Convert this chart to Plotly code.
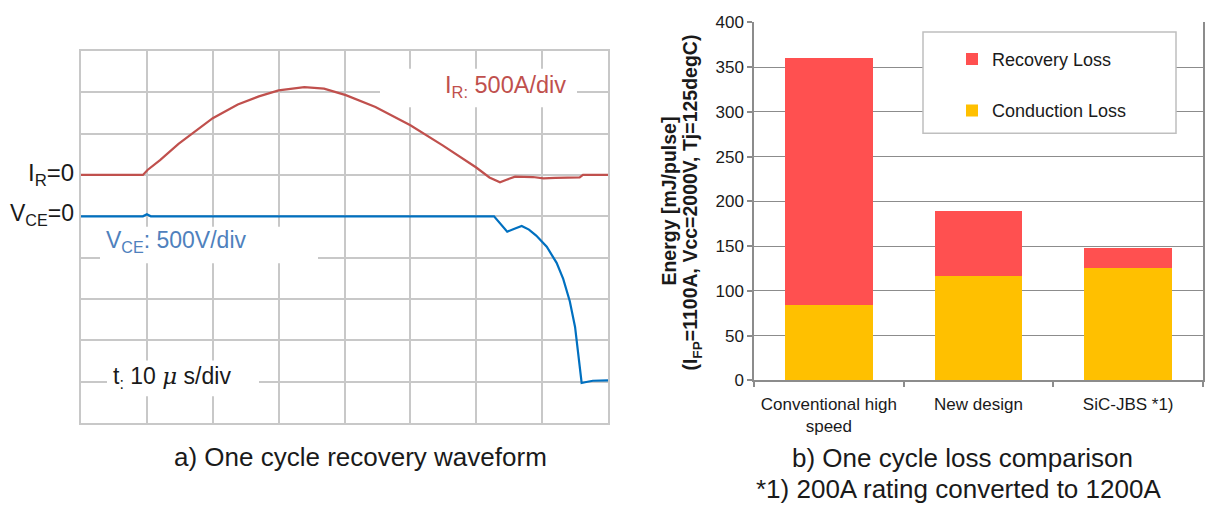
import plotly.graph_objects as go

W, H = 1205, 514


def px_x(x):
    return x / W


def px_y(y):
    return 1 - y / H


# ---------------- a) waveform data (read from the scope picture) ----------------
t_ir = [0, 9.4, 10.1, 12.0, 14.8, 17.5, 20.0, 23.8, 27.0, 30.0, 33.9, 36.9, 40.2,
        44.7, 50.0, 54.9, 60.0, 62.0, 63.6, 64.5, 65.9, 68.6, 70.2, 72.0, 75.7, 76.2, 80]
ir_a = [0, 0, 60, 180, 376, 540, 686, 853, 950, 1023, 1062, 1043, 965,
        822, 601, 357, 90, -30, -89, -60, -21, -25, -41, -35, -29, 0, 0]

t_vce = [0, 9.4, 10.0, 10.6, 62.7, 63.8, 64.7, 65.8, 66.9, 68.0, 69.1, 70.7, 72.2,
         73.2, 74.2, 75.0, 75.5, 76.0, 76.7, 77.7, 80]
vce_v = [0, 0, 25, 0, 0, -100, -186, -150, -116, -160, -233, -368, -562,
         -756, -1027, -1337, -1647, -2015, -2003, -1988, -1984]

# ---------------- b) loss comparison data ----------------
categories = ["Conventional high<br>speed", "New design", "SiC-JBS *1)"]
conduction_loss = [84, 117, 126]
recovery_loss = [276, 72, 22]
energy_ticks = [0, 50, 100, 150, 200, 250, 300, 350, 400]

FONT = "Liberation Sans, Arial, Helvetica, sans-serif"
RED_TR = "#C0504D"
BLUE_TR = "#0070C0"

fig = go.Figure()
fig.add_trace(go.Scatter(x=t_ir, y=ir_a, mode="lines", line=dict(color=RED_TR, width=2.2),
                         xaxis="x", yaxis="y", showlegend=False, name="I_R"))
fig.add_trace(go.Scatter(x=t_vce, y=vce_v, mode="lines", line=dict(color=BLUE_TR, width=2.2),
                         xaxis="x", yaxis="y3", showlegend=False, name="V_CE"))
fig.add_trace(go.Bar(x=categories, y=conduction_loss, name="Conduction Loss",
                     marker=dict(color="#FFC000", line=dict(width=0)),
                     xaxis="x2", yaxis="y2", legendgroup="cond", legendrank=2))
fig.add_trace(go.Bar(x=categories, y=recovery_loss, name="Recovery Loss",
                     marker=dict(color="#FF5050", line=dict(width=0)),
                     xaxis="x2", yaxis="y2", legendgroup="rec", legendrank=1))

grid_l = "#c8c8c8"
grid_r = "#8c8c8c"

fig.update_layout(
    width=W, height=H,
    margin=dict(l=0, r=0, t=0, b=0),
    paper_bgcolor="white", plot_bgcolor="white",
    font=dict(family=FONT, color="#1a1a1a"),
    barmode="stack", bargap=0.413,
    xaxis=dict(domain=[px_x(81), px_x(608)], range=[0, 80], dtick=10, tick0=0,
               showgrid=True, gridcolor=grid_l, gridwidth=1.5, zeroline=False,
               showticklabels=False, ticks="", showline=True, mirror=True,
               linecolor=grid_l, linewidth=1.5, anchor="y"),
    yaxis=dict(domain=[px_y(430), px_y(43.5)], range=[-3000, 1500], dtick=500, tick0=0,
               showgrid=True, gridcolor=grid_l, gridwidth=1.5, zeroline=False,
               showticklabels=False, ticks="", showline=True, mirror=True,
               linecolor=grid_l, linewidth=1.5, anchor="x"),
    yaxis3=dict(overlaying="y", range=[-2500, 2000], visible=False, anchor="x"),
    xaxis2=dict(domain=[px_x(754), px_x(1203)], anchor="y2", type="category",
                range=[-0.5, 2.5], showline=True, linecolor=grid_r, linewidth=1.5,
                ticks="outside", tickson="boundaries", ticklen=5, tickcolor=grid_r,
                tickwidth=1.5, tickangle=0, ticklabelstandoff=7,
                tickfont=dict(size=17, color="#1a1a1a"), showgrid=False),
    yaxis2=dict(domain=[px_y(385.7), px_y(14)], anchor="x2", range=[0, 400],
                tickvals=energy_ticks, showgrid=True, gridcolor=grid_r, gridwidth=1.3,
                zeroline=False, showline=True, mirror=True, linecolor=grid_r, linewidth=1.5,
                ticks="outside", ticklen=5, tickcolor=grid_r, tickwidth=1.5,
                tickfont=dict(size=17, color="#1a1a1a")),
    legend=dict(x=px_x(952), y=px_y(33), xanchor="left", yanchor="top",
                bgcolor="rgba(0,0,0,0)", font=dict(size=18, color="#1a1a1a"),
                traceorder="grouped", tracegroupgap=25),
)

shapes = []
# legend frame
shapes.append(dict(type="rect", xref="paper", yref="paper",
                   x0=px_x(923), x1=px_x(1176), y0=px_y(129), y1=px_y(24),
                   line=dict(color="#bfbfbf", width=1.5), fillcolor="white", layer="above"))
# white backgrounds behind the scope labels
for (x0, x1, y0, y1) in [(380, 577, 62, 102), (100, 318, 226, 264), (107, 259, 365, 402)]:
    shapes.append(dict(type="rect", xref="paper", yref="paper",
                       x0=px_x(x0), x1=px_x(x1), y0=px_y(y1), y1=px_y(y0),
                       line=dict(width=0), fillcolor="white", layer="above"))
fig.update_layout(shapes=shapes)

ann = []


def add_text(text, x, y, size, color="#1a1a1a", xanchor="center", textangle=0):
    ann.append(dict(text=text, x=px_x(x), y=px_y(y), xref="paper", yref="paper",
                    xanchor=xanchor, yanchor="middle", showarrow=False,
                    textangle=textangle, font=dict(size=size, color=color, family=FONT)))


add_text("I<sub>R:</sub> 500A/div", 505, 80, 23.5, RED_TR)
add_text("V<sub>CE</sub>: 500V/div", 176, 241, 23, "#4F81BD")
add_text("t<sub>:</sub> 10 <span style=\"font-family:'DejaVu Serif'\"><i>\u03bc</i></span> s/div",
         172, 383, 23)
add_text("I<sub>R</sub>=0", 76, 172, 24, xanchor="right")
add_text("V<sub>CE</sub>=0", 76, 213, 23, xanchor="right")
add_text("a) One cycle recovery waveform", 360, 465, 26)
add_text("b) One cycle loss comparison", 962, 466, 26)
add_text("*1) 200A rating converted to 1200A", 959, 498, 26)
add_text("<b>Energy [mJ/pulse]</b>", 669, 200, 19.5, textangle=-90)
add_text("<b>(I<sub>FP</sub>=1100A, Vcc=2000V, Tj=125degC)</b>", 692, 201, 19.5, textangle=-90)
fig.update_layout(annotations=ann)

fig.write_html("out.html", config={"displayModeBar": False},
               post_script="document.body.style.margin='0';document.body.style.overflow='hidden';")
